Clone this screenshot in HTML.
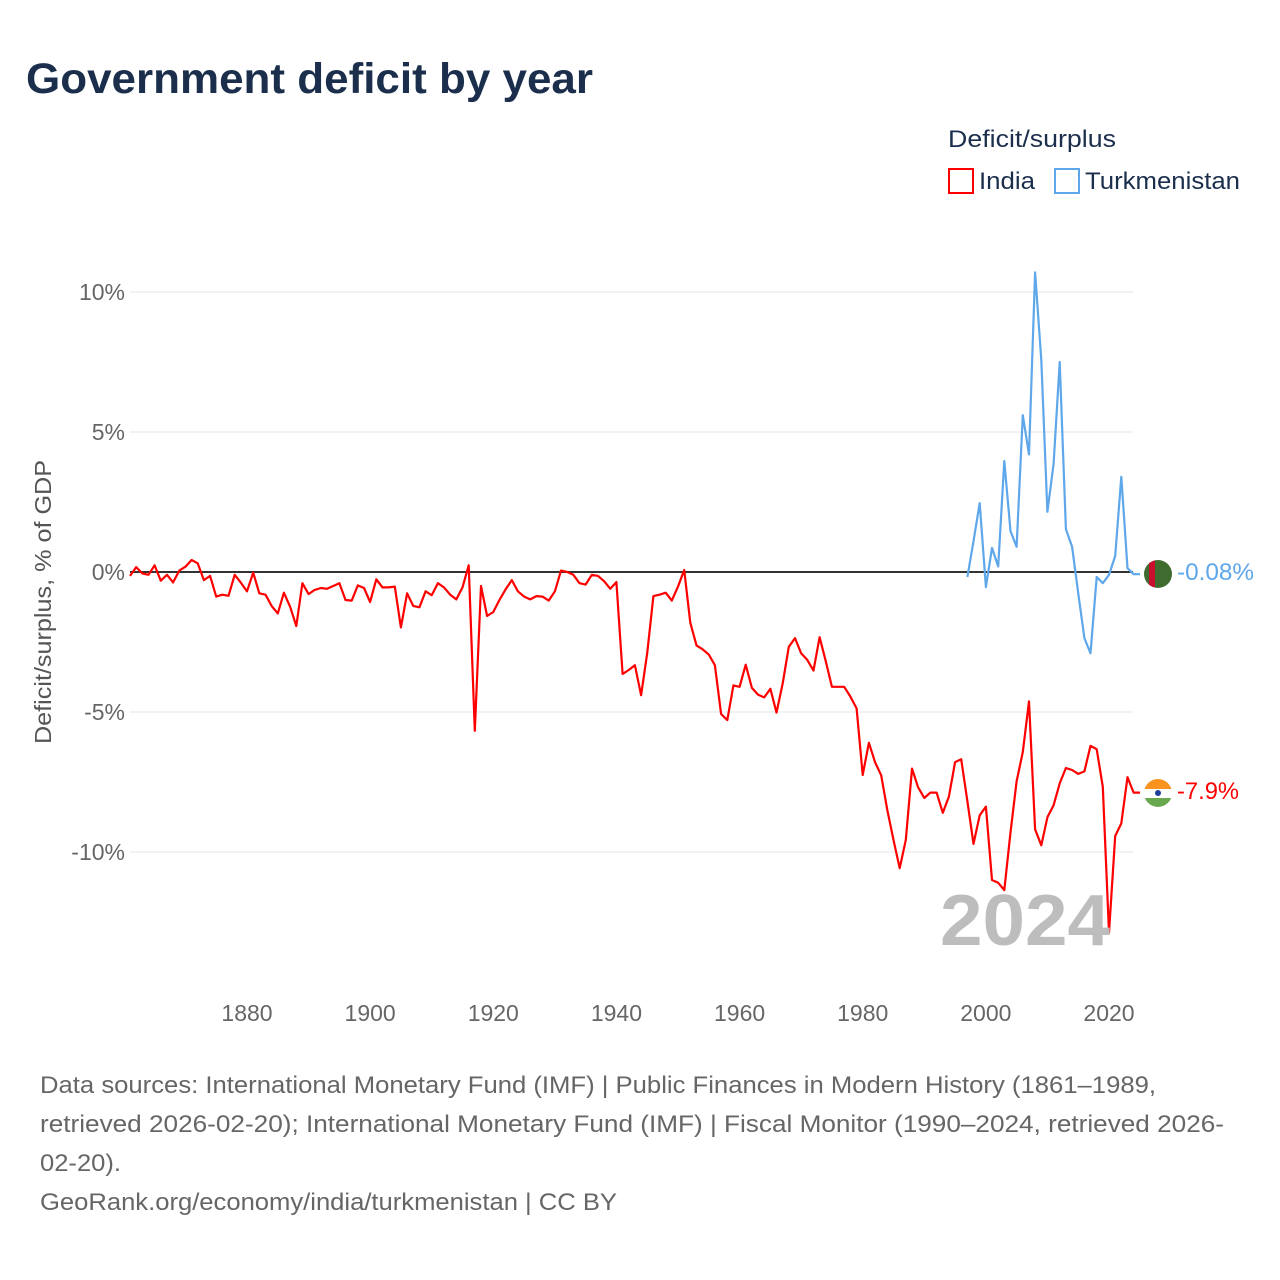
<!DOCTYPE html>
<html><head><meta charset="utf-8"><style>
body{margin:0;background:#fff;font-family:"Liberation Sans",sans-serif;}
#wrap{position:relative;width:1280px;height:1280px;overflow:hidden;}
</style></head><body>
<div id="wrap">
<svg id="chart" width="1280" height="1280">
<text x="26" y="93" font-size="43" font-weight="bold" fill="#1b2f4d" textLength="567" lengthAdjust="spacingAndGlyphs">Government deficit by year</text>
<text x="948" y="147" font-size="24" fill="#1b2f4d" textLength="168" lengthAdjust="spacingAndGlyphs">Deficit/surplus</text>
<g><rect x="949" y="169" width="24" height="24" fill="none" stroke="#f00" stroke-width="2"/><text x="979" y="189" font-size="24" fill="#1b2f4d" textLength="56" lengthAdjust="spacingAndGlyphs">India</text></g>
<g><rect x="1055" y="169" width="24" height="24" fill="none" stroke="#5ea7ea" stroke-width="2"/><text x="1085" y="189" font-size="24" fill="#1b2f4d" textLength="155" lengthAdjust="spacingAndGlyphs">Turkmenistan</text></g>
<text transform="translate(51,602) rotate(-90)" text-anchor="middle" font-size="23" fill="#555" textLength="284" lengthAdjust="spacingAndGlyphs">Deficit/surplus, % of GDP</text>
<g id="grid"></g><g id="xt"></g><g id="lines"></g>
<text x="940" y="945" font-size="72" font-weight="bold" fill="#bdbdbd" textLength="170" lengthAdjust="spacingAndGlyphs">2024</text>
<g><clipPath id="tc"><circle cx="1158" cy="574" r="14"/></clipPath><g clip-path="url(#tc)"><rect x="1144" y="560" width="28" height="28" fill="#3e6b2e"/><rect x="1149" y="560" width="6" height="28" fill="#c8102e"/></g></g>
<g><clipPath id="ic"><circle cx="1158" cy="793" r="14"/></clipPath><g clip-path="url(#ic)"><rect x="1144" y="779" width="28" height="10" fill="#f7931e"/><rect x="1144" y="789" width="28" height="9" fill="#fff"/><rect x="1144" y="798" width="28" height="10" fill="#6aa84f"/></g><circle cx="1158" cy="793" r="3" fill="#1f3d9b"/></g>
<text x="1177" y="580" font-size="24" fill="#5ea7ea" textLength="77" lengthAdjust="spacingAndGlyphs">-0.08%</text>
<text x="1177" y="799" font-size="24" fill="#f00" textLength="62" lengthAdjust="spacingAndGlyphs">-7.9%</text>
<g font-size="24" fill="#666">
<text x="40" y="1093" textLength="1116" lengthAdjust="spacingAndGlyphs">Data sources: International Monetary Fund (IMF) | Public Finances in Modern History (1861–1989,</text>
<text x="40" y="1132" textLength="1184" lengthAdjust="spacingAndGlyphs">retrieved 2026-02-20); International Monetary Fund (IMF) | Fiscal Monitor (1990–2024, retrieved 2026-</text>
<text x="40" y="1171" textLength="81" lengthAdjust="spacingAndGlyphs">02-20).</text>
<text x="40" y="1210" textLength="577" lengthAdjust="spacingAndGlyphs">GeoRank.org/economy/india/turkmenistan | CC BY</text>
</g>
</svg></div>
<script>
const yTicks=[10,5,0,-5,-10];
const xTicks=[1880,1900,1920,1940,1960,1980,2000,2020];
const indiaStart=1861;
const indiaValues=[-0.14,0.17,-0.05,-0.1,0.24,-0.31,-0.1,-0.37,0.05,0.19,0.43,0.31,-0.29,-0.14,-0.88,-0.81,-0.85,-0.1,-0.38,-0.69,
-0.02,-0.76,-0.81,-1.21,-1.48,-0.74,-1.24,-1.93,-0.4,-0.79,-0.64,-0.57,-0.6,-0.5,-0.4,-1.0,-1.02,-0.48,-0.57,-1.07,
-0.26,-0.55,-0.55,-0.52,-1.98,-0.76,-1.21,-1.26,-0.69,-0.83,-0.4,-0.55,-0.81,-0.98,-0.55,0.24,-5.67,-0.5,-1.57,-1.43,
-1.0,-0.62,-0.29,-0.69,-0.88,-0.98,-0.86,-0.88,-1.02,-0.69,0.05,0,-0.1,-0.4,-0.45,-0.1,-0.14,-0.33,-0.6,-0.36,
-3.64,-3.5,-3.33,-4.4,-2.9,-0.86,-0.81,-0.74,-1.02,-0.52,0.07,-1.81,-2.62,-2.76,-2.95,-3.33,-5.07,-5.29,-4.05,-4.1,
-3.31,-4.14,-4.38,-4.48,-4.17,-5.02,-3.98,-2.67,-2.36,-2.9,-3.14,-3.52,-2.33,-3.19,-4.1,-4.1,-4.1,-4.45,-4.87,-7.25,
-6.1,-6.79,-7.26,-8.5,-9.57,-10.58,-9.57,-7.02,-7.69,-8.07,-7.88,-7.88,-8.6,-8.02,-6.79,-6.69,-8.19,-9.71,-8.69,-8.38,
-11.0,-11.1,-11.36,-9.3,-7.48,-6.43,-4.62,-9.19,-9.76,-8.76,-8.33,-7.55,-7.0,-7.07,-7.21,-7.12,-6.21,-6.33,-7.67,-12.88,
-9.43,-8.98,-7.33,-7.88];
const turkStart=1997;
const turkValues=[-0.18,1.1,2.46,-0.54,0.86,0.2,3.96,1.46,0.9,5.6,4.2,10.7,7.57,2.15,3.86,7.5,1.53,0.9,-0.75,-2.36,-2.9,-0.18,-0.4,-0.1,0.57,3.4,0.14,-0.08];
const NS='http://www.w3.org/2000/svg';
const X=yr=>247+(yr-1880)*(1109-247)/140;
const Y=v=>572-v*28;
function mk(t,a,p){const e=document.createElementNS(NS,t);for(const k in a)e.setAttribute(k,a[k]);p.appendChild(e);return e;}
const grid=document.getElementById('grid');
yTicks.forEach(v=>{
 const l=mk('line',{x1:130,x2:1133,y1:Y(v),y2:Y(v),stroke:v===0?'#333':'#e6e6e6','stroke-width':v===0?2:1},grid);
 
 
 const t=mk('text',{x:125,y:Y(v)+8,'text-anchor':'end','font-size':23,fill:'#666'},grid);
 t.textContent=v+'%';
 
 
});
const xt=document.getElementById('xt');
xTicks.forEach(yr=>{
 const t=mk('text',{x:X(yr),y:1021,'text-anchor':'middle','font-size':23,fill:'#666'},xt);
 t.textContent=yr;
 
 
});
const lines=document.getElementById('lines');
function series(start,vals,color,name,endX){
 let pts=vals.map((v,i)=>X(start+i).toFixed(1)+','+Y(v).toFixed(1));
 pts.push(endX+','+Y(vals[vals.length-1]).toFixed(1));
 const p=mk('polyline',{points:pts.join(' '),fill:'none',stroke:color,'stroke-width':2.2,'stroke-linejoin':'round'},lines);
 
 
}
series(indiaStart,indiaValues,'#f00','india-line',1140);
series(turkStart,turkValues,'#5ea7ea','turkmenistan-line',1140);
</script>
</body></html>
